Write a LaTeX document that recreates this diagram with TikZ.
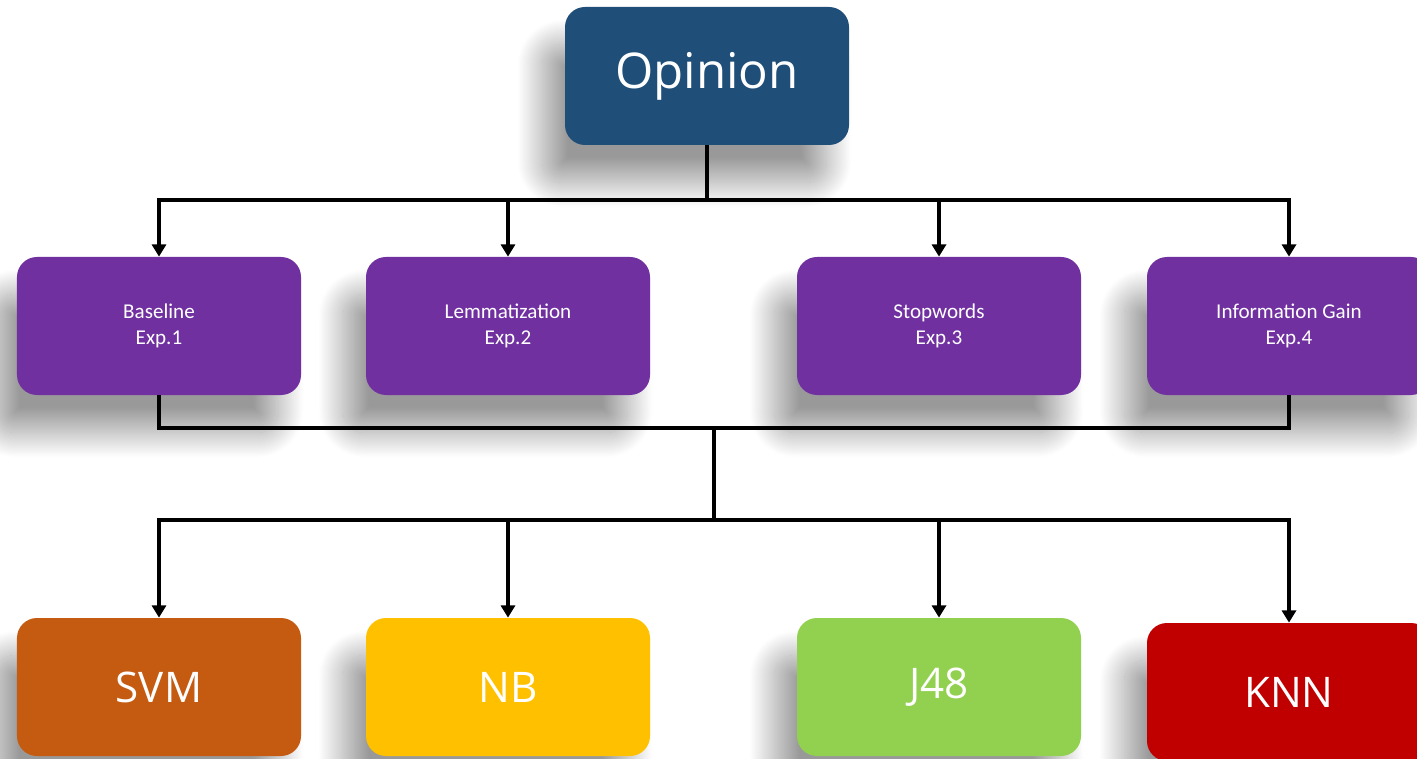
\documentclass[tikz,border=0pt]{standalone}
\usepackage{fontspec}
\setmainfont{Open Sans}
\newfontfamily\smallfont{Carlito}
\usetikzlibrary{arrows.meta,shadows,shadows.blur}
\definecolor{opinionblue}{HTML}{1F4E79}
\definecolor{exppurple}{HTML}{7030A0}
\definecolor{svmorange}{HTML}{C55A11}
\definecolor{nbyellow}{HTML}{FFC000}
\definecolor{jgreen}{HTML}{92D050}
\definecolor{knnred}{HTML}{C00000}
\begin{document}
\begin{tikzpicture}[x=0.2mm, y=-0.2mm,
    box/.style    = {rectangle, rounded corners=0.4cm, minimum width=5.68cm,
                     minimum height=2.76cm, text=white, align=center,
                     blur shadow={shadow xshift=-0.45cm, shadow yshift=-0.75cm,
                                  shadow blur radius=0.5cm, shadow blur steps=40,
                                  shadow opacity=40}},
    expbox/.style = {box, fill=exppurple, font=\smallfont\fontsize{12}{14.8}\selectfont},
    algbox/.style = {box, font=\fontsize{24}{28}\selectfont},
    wire/.style   = {line width=2.4pt},
    arr/.style    = {wire, -{Triangle[width=8pt,length=7pt]}}]
        \useasboundingbox (0,0) rectangle (1417,759);
        \node[box, fill=opinionblue, font=\fontsize{28}{32}\selectfont] (opinion) at ( 707, 76) {Opinion};
        \node[expbox] (baseline) at ( 159,326) {Baseline\\Exp.1};
        \node[expbox] (lemma)    at ( 508,326) {Lemmatization\\Exp.2};
        \node[expbox] (stop)     at ( 939,326) {Stopwords\\Exp.3};
        \node[expbox] (infogain) at (1289,326) {Information Gain\\Exp.4};
        \node[algbox, fill=svmorange] (svm) at ( 159,687) {SVM};
        \node[algbox, fill=nbyellow]  (nb)  at ( 508,687) {NB};
        \node[algbox, fill=jgreen]    (jf)  at ( 939,687) {J48};
        \node[algbox, fill=knnred]    (knn) at (1289,692) {KNN};
        \coordinate (top)    at ( 707,200);
        \coordinate (middle) at ( 714,428);
        \coordinate (bottom) at ( 714,520);
        \draw[wire] (opinion) -- (top);
        \draw[arr]  (top) -| (baseline);
        \draw[arr]  (top) -| (lemma);
        \draw[arr]  (top) -| (stop);
        \draw[arr]  (top) -| (infogain);
        \draw[wire] (baseline) |- (middle) -| (infogain);
        \draw[wire] (middle) -- (bottom);
        \draw[arr]  (bottom) -| (svm);
        \draw[arr]  (bottom) -| (nb);
        \draw[arr]  (bottom) -| (jf);
        \draw[arr]  (bottom) -| (knn);
\end{tikzpicture}
\end{document}
